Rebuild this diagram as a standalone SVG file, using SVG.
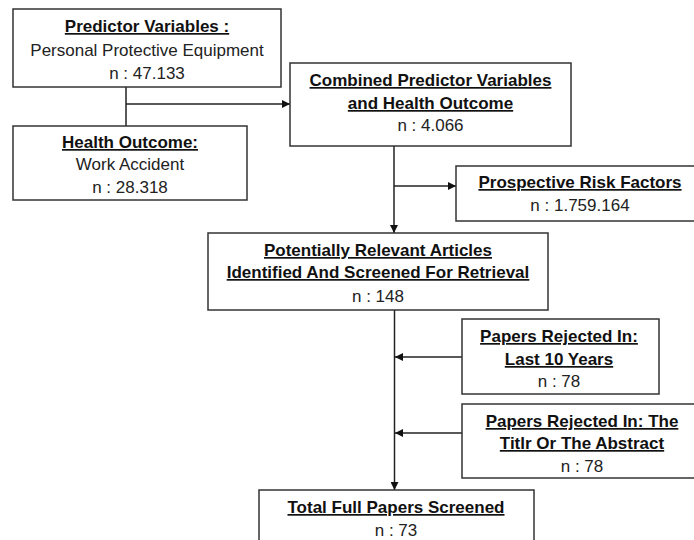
<svg xmlns="http://www.w3.org/2000/svg" width="694" height="540" viewBox="0 0 694 540">
<defs>
<marker id="arr" viewBox="0 0 10 10" refX="10" refY="5" markerWidth="8" markerHeight="8" markerUnits="userSpaceOnUse" orient="auto">
<path d="M0,0 L10,5 L0,10 z" fill="#111"/>
</marker>
<style>
.box{fill:#fff;stroke:#333;stroke-width:1.5}
text{font-family:"Liberation Sans",Arial,sans-serif;font-size:17px;fill:#222;text-anchor:middle}
.h{font-weight:bold;text-decoration:underline;fill:#111}
.c{fill:none;stroke:#222;stroke-width:1.5}
.a{marker-end:url(#arr)}
</style>
</defs>
<rect width="694" height="540" fill="#fff"/>
<g id="connectors">
<line class="c" x1="126" y1="87" x2="126" y2="126"/>
<line class="c a" x1="126" y1="104" x2="290" y2="104"/>
<line class="c a" x1="394" y1="146" x2="394" y2="233"/>
<line class="c a" x1="394" y1="186" x2="456" y2="186"/>
<line class="c a" x1="394.5" y1="310" x2="394.5" y2="490"/>
<line class="c a" x1="462" y1="357" x2="395" y2="357"/>
<line class="c a" x1="462" y1="433" x2="395" y2="433"/>
</g>
<g id="predictor">
<rect class="box" x="13" y="9" width="268" height="78"/>
<text class="h" x="147" y="32">Predictor Variables :</text>
<text x="147" y="56">Personal Protective Equipment</text>
<text x="147" y="79">n : 47.133</text>
</g>
<g id="health">
<rect class="box" x="13" y="126" width="234" height="74"/>
<text class="h" x="130" y="148">Health Outcome:</text>
<text x="130" y="170">Work Accident</text>
<text x="130" y="193">n : 28.318</text>
</g>
<g id="combined">
<rect class="box" x="290" y="63" width="281" height="83"/>
<text class="h" x="430.5" y="86">Combined Predictor Variables</text>
<text class="h" x="430.5" y="109">and Health Outcome</text>
<text x="430.5" y="131">n : 4.066</text>
</g>
<g id="prospective">
<rect class="box" x="456" y="166" width="248" height="55"/>
<text class="h" x="580" y="188">Prospective Risk Factors</text>
<text x="580" y="211">n : 1.759.164</text>
</g>
<g id="potentially">
<rect class="box" x="208" y="233" width="340" height="77"/>
<text class="h" x="378" y="256">Potentially Relevant Articles</text>
<text class="h" x="378" y="278">Identified And Screened For Retrieval</text>
<text x="378" y="302">n : 148</text>
</g>
<g id="rejected-years">
<rect class="box" x="462" y="319" width="197" height="75"/>
<text class="h" x="559" y="342">Papers Rejected In:</text>
<text class="h" x="559" y="365">Last 10 Years</text>
<text x="559" y="387">n : 78</text>
</g>
<g id="rejected-title">
<rect class="box" x="462" y="404" width="241" height="74"/>
<text class="h" x="582" y="427">Papers Rejected In: The</text>
<text class="h" x="582" y="449">Titlr Or The Abstract</text>
<text x="582" y="472">n : 78</text>
</g>
<g id="total">
<rect class="box" x="259" y="490" width="275" height="60"/>
<text class="h" x="396" y="513">Total Full Papers Screened</text>
<text x="396" y="536">n : 73</text>
</g>
</svg>
